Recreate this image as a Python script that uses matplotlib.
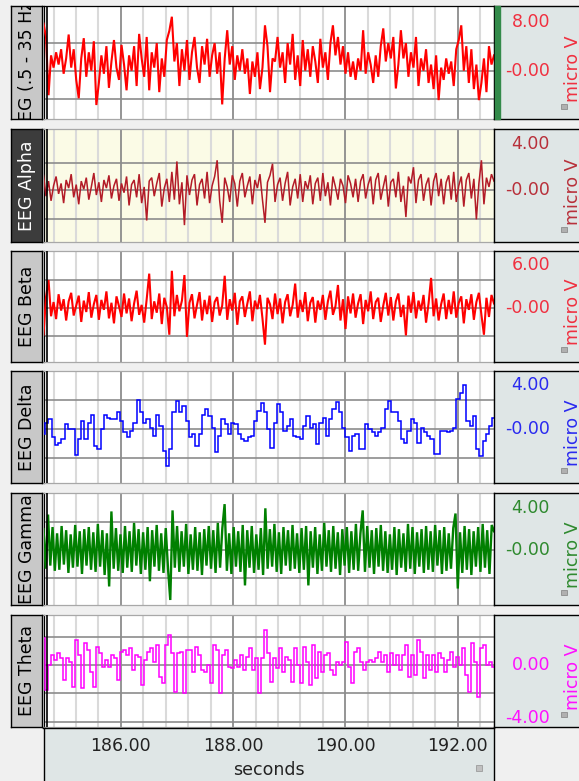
import numpy as np
import matplotlib

matplotlib.use("Agg")

import matplotlib.pyplot as plt
from matplotlib.patches import Rectangle

W, H = 579, 781
plt.rcParams["font.family"] = ["DejaVu Sans"]

# visible time window (seconds) and the cursor line near the left edge
T_START, T_END = 184.62, 192.65
CURSOR_T = 184.676
X_MAJOR = [186.0, 188.0, 190.0, 192.0]
X_MAJOR_LABELS = ["186.00", "188.00", "190.00", "192.00"]
X_MINOR = [184.8, 185.2, 185.6, 186.4, 186.8, 187.2, 187.6, 188.4, 188.8,
           189.2, 189.6, 190.4, 190.8, 191.2, 191.6, 192.4]

# ---- channel samples (micro V) ----
eeg_full = [
    7.7, 5.5, -4.0, 2.5, 0.5, 3.0, 1.0, 3.5, -0.5, 2.0,
    5.9, 0.5, 3.5, -1.5, -4.5, 2.0, 5.3, -1.0, 3.0, 0.0,
    4.8, -5.6, -2.0, 2.5, -0.5, 4.0, -2.8, 1.5, 5.0, 0.5,
    -1.5, 4.2, 1.0, -3.2, 2.5, 0.0, 4.0, -2.5, 6.0, 2.0,
    -1.0, 5.5, -3.2, 3.0, 0.5, 4.5, -3.5, 2.0, -1.0, 5.0,
    6.5, 8.8, 1.5, 4.5, -2.5, 3.5, 0.0, 5.0, -1.5, 3.0,
    5.5, 0.5, -2.0, 4.0, 1.0, 5.2, -1.0, 2.5, 4.5, -0.5,
    3.0, -5.5, 2.0, 6.6, 1.0, 4.0, -1.5, 2.5, 0.0, 3.5,
    -0.5, 2.0, -3.8, 1.5, -1.0, 3.0, -3.0, 0.5, 7.4, 4.0, -3.5, 2.0,
    1.5, 5.5, 0.5, 3.0, -2.0, 4.5, 1.0, 6.0, -1.5, 2.5,
    -2.5, 5.0, 0.0, 3.5, -1.0, 4.0, 1.5, -2.0, 5.2, 0.5,
    3.0, -1.5, 4.5, 7.4, 2.5, 5.5, 1.0, 4.0, -0.5, 3.0,
    -1.0, 1.5, -1.5, 2.0, 0.0, 6.6, -0.5, 3.0, 1.0, -2.0,
    2.5, -1.0, 4.0, 6.9, 1.5, 4.5, 2.0, 5.5, -2.9, 1.0,
    6.6, 2.0, 4.5, -1.0, 3.0, 0.5, 5.5, -2.5, 2.0, 0.0,
    3.5, -2.0, 1.0, -3.0, 2.5, -4.8, 0.5, -1.5, 2.0, -0.5,
    1.5, -2.5, 3.5, 5.0, 7.4, 0.0, 4.0, -2.0, 3.5, -3.0,
    1.0, -4.8, -2.0, 2.0, -3.5, 4.0, 1.0, 2.5,
]

eeg_alpha = [
    1.3, -0.5, 0.8, -0.9, 0.4, 1.2, -0.3, 0.6, -1.1, 0.9,
    0.2, 1.4, -0.6, 0.5, -1.2, 0.8, 0.1, 1.1, -0.8, 0.3,
    1.5, -0.4, 0.7, -1.0, 0.9, 0.2, 1.3, -0.7, 0.4, 1.0,
    -0.9, 0.6, -0.2, 1.2, -1.3, 0.5, 0.9, -0.6, 1.4, -1.1,
    0.3, -2.6, 0.8, 1.1, -0.5, 0.6, 1.5, -1.4, 0.2, 1.0,
    -1.0, 1.6, -0.8, 2.5, -1.2, 0.7, -3.0, 1.3, -0.4, 0.9,
    1.4, -1.3, 0.5, 1.0, -0.7, 1.6, -1.1, 0.4, 1.2, 2.6,
    -0.9, -2.8, 1.1, 0.3, -1.0, 1.3, 0.6, -1.4, 0.8, 1.5,
    -0.6, 0.4, 1.2, -1.2, 0.9, 0.2, 1.4, -0.8, -2.8, 0.7,
    1.3, 2.3, -1.0, 0.5, 1.1, -0.9, 0.6, 1.6, -1.3, 0.3,
    1.0, -0.7, 1.4, -1.0, 0.8, 0.1, 1.3, -1.2, 0.6, 1.1,
    -0.9, 1.5, -0.5, 0.7, -1.3, 1.2, 0.3, -0.8, 1.0, 0.4,
    -1.1, 1.3, 0.6, -0.6, 1.0, -1.0, 0.8, 1.4, -0.7, 0.5,
    1.2, -1.2, 0.9, 1.5, -0.8, 0.3, 1.3, -1.4, 0.7, 1.0,
    -0.6, 1.6, -1.0, 0.4, -2.3, 1.2, 0.6, 2.0, -1.1, 0.9,
    1.4, -0.9, 0.5, 1.1, -1.3, 0.8, 1.5, -0.5, 1.0, -1.2,
    0.7, 1.3, -0.8, 1.6, -1.0, 0.4, 1.2, -1.4, 0.9, 1.5,
    -0.7, 1.0, -2.5, 0.6, 2.6, -1.2, 1.1, 0.3, 1.4, 0.8,
]

eeg_beta = [
    -3.8, 1.5, 3.9, -1.2, 0.8, -1.6, 1.9, -0.4, 1.2, -1.8,
    0.9, 2.1, -1.1, 0.3, 1.7, -2.0, 1.0, -0.6, 2.2, -1.4,
    0.5, 1.8, -1.7, 1.1, -0.3, 2.3, -1.5, 0.7, -2.2, 1.6,
    0.2, -1.3, 2.0, -0.8, 1.3, -1.9, 0.6, 2.4, -1.0, 0.4,
    -2.1, 1.2, 4.8, -1.6, 0.9, -0.7, 2.0, -2.3, 1.4, 0.1,
    -3.8, 5.2, -1.2, 1.8, -0.5, 1.0, 4.6, -4.1, 0.7, 1.9,
    -1.5, 0.4, 2.2, -1.8, 1.1, -0.9, 1.7, -2.0, 0.8, 1.5,
    -1.1, 0.3, 4.5, -1.7, 1.2, -0.4, 2.1, -2.4, 0.9, 1.6,
    -1.3, 0.6, 2.3, -1.9, 1.0, -0.2, 1.8, -1.5, -5.2, 1.4,
    0.5, -1.6, 2.0, -0.9, 1.3, -2.2, 0.8, 1.9, -1.2, 0.4,
    3.4, -1.4, 1.1, -0.6, 2.2, -1.9, 0.7, 1.5, -2.1, 1.0,
    -0.3, 1.8, -1.7, 0.9, 2.4, -1.0, 0.2, 3.2, -1.8, 1.2,
    -3.0, 1.6, -0.8, 2.0, -1.4, 0.6, 1.9, -2.3, 1.1, -0.5,
    2.3, -1.6, 0.8, 1.4, -2.0, 0.3, 2.1, -1.1, 1.5, -1.8,
    0.9, 2.0, -1.3, 0.4, -3.9, 1.7, -0.7, 2.2, -1.5, 1.0,
    -0.4, 1.8, -2.1, 0.6, 4.2, -1.2, 1.3, -1.8, 0.5, 2.0,
    -1.6, 1.1, -0.9, 2.3, -1.4, 0.7, 1.6, -2.2, 1.2, -0.3,
    1.9, -1.7, 0.8, 2.1, -1.0, -3.8, 1.4, -1.3, 1.8, 0.6,
]

eeg_delta = [
    -0.5, 0.55, 0.85, -0.8, -1.55, -1.35, -1.0, 0.4, 0.0, -0.05,
    -2.45, -1.0, 0.7, -1.0, 0.55, 1.3, -1.65, -1.9, -0.05, 1.3,
    1.0, 0.9, 0.9, 1.5, 0.7, -0.35, -0.8, -0.2, 0.55, 2.65,
    1.5, 0.55, 0.85, 0.1, -0.7, 1.3, 0.25, -2.05, -3.45, -1.9,
    1.5, 2.55, 1.5, 2.1, 0.7, -0.8, -0.5, -1.6, -0.5, 1.3,
    1.8, 1.15, 0.1, -2.2, -0.7, 0.85, 0.4, -0.5, 0.55, 0.4,
    -0.5, -1.0, -1.15, -0.8, -0.7, 0.7, 1.65, 2.4, 1.5,
    -0.05, -1.75, 0.55, 2.25, 1.5, -0.2, 0.25, 0.85, -0.7, -0.8,
    -1.0, 0.25, 1.15, 0.1, 0.4, -1.45, 0.55, 1.0, -0.7, 0.85,
    1.8, 2.45, 1.5, 0.1, -0.8, -2.05, -0.7, -0.5, -1.9, -1.9,
    0.4, -0.05, -0.35, -0.7, -0.35, 0.1, 1.8, 2.55, 1.5, 1.5,
    0.7, -1.0, -1.3, -0.2, 0.85, 0.55, -1.3, 0.1, -0.35, -0.7,
    -1.0, -2.35, -2.35, -0.2, -0.2, -0.35, -0.2, 0.1, 2.7, 3.3,
    4.0, 0.7, 0.25, 1.15, -1.9, -2.5, -1.15, -0.5, 0.25, 1.0,
]

eeg_gamma = [
    2.0, -1.8, 3.4, -1.5, 2.2, -2.0, 1.6, -1.9, 2.3, -1.4,
    1.9, -2.2, 1.5, -1.7, 2.4, -1.6, 1.8, -2.3, 2.0, -1.5,
    2.2, -1.9, 1.7, -2.1, 2.5, -1.6, 1.9, -2.4, 1.6, -3.5,
    3.7, -1.8, 2.1, -2.0, 1.5, -2.2, 2.3, -1.7, 1.8, -2.1,
    2.6, -1.5, 2.0, -2.3, 1.7, -1.9, 2.2, -3.0, 1.9, -1.6,
    2.4, -2.0, 1.6, -2.2, 2.1, -1.8, -4.8, 3.8, -1.7, 2.3,
    -2.1, 1.8, -1.6, 2.5, -2.3, 1.5, -1.9, 2.2, -2.0, 1.7,
    -2.4, 2.0, -1.5, 2.3, -1.8, 1.9, -2.2, 2.6, -1.7, 2.1,
    4.4, -2.0, 1.6, -2.3, 2.2, -1.6, 1.8, -2.1, 2.4, -3.4,
    1.9, -1.7, 2.3, -2.2, 1.5, -1.9, 2.1, -2.4, 4.0, -1.8,
    2.0, -1.6, 2.5, -2.1, 1.7, -2.3, 2.2, -1.5, 1.9, -2.0,
    2.4, -1.8, 1.6, -2.2, 2.1, -1.9, 2.3, -3.4, 1.8, -1.7,
    2.2, -2.3, 1.5, -2.0, 2.6, -1.6, 1.9, -2.1, 2.3, -1.8,
    1.7, -2.4, 2.0, -1.5, 2.2, -2.2, 1.8, -1.9, 2.5, -2.0,
    1.6, 3.8, -2.1, 2.3, -1.7, 1.9, -2.3, 2.1, -1.6, 2.4,
    -2.0, 1.8, -2.2, 1.5, -1.9, 2.2, -2.4, 2.0, -1.7, 1.6,
    -2.1, 2.5, -1.8, 2.2, -2.3, 1.7, -1.6, 2.0, -2.2, 2.3,
    -1.9, 1.8, -2.1, 2.4, -1.5, 1.9, -2.3, 2.2, -2.0, 1.6,
    -1.8, 2.1, 3.5, -3.7, 1.7, -2.2, 2.3, -1.9, 2.0, -2.4,
    1.8, -1.6, 2.2, -2.1, 2.5, -1.7, 1.9, -2.3, 2.4, 1.8,
]

eeg_theta = [
    2.0, -1.88, 0.0, 0.75, 0.38, 0.88, 0.5, -1.12, 0.5, 0.25,
    -1.62, 1.88, 0.75, -1.75, 1.62, 1.12, -0.5, -1.62, 1.38, 0.88,
    -0.12, 0.38, -0.12, 0.75, 0.5, -1.12, 1.0, 1.12, 0.75, 1.25,
    -0.38, 0.75, 0.62, -1.5, 0.38, 1.0, 1.25, 0.25, 1.5, -0.88,
    -1.38, 1.5, 2.25, 0.88, -2.0, 0.88, 1.0, -2.12, 1.12, 1.12,
    -0.5, 1.38, 0.75, -0.38, -0.5, 0.0, -1.38, 1.5, 1.12, -2.12,
    0.75, 1.12, -0.12, -0.25, 0.38, -0.12, 0.75, -0.38, 0.62, 1.25,
    -0.38, 0.5, -2.12, 0.5, 2.62, 0.88, -1.25, 0.5, -0.25, 1.25,
    -0.5, 0.62, 0.38, -1.25, 1.25, 0.0, -1.38, 1.38, 0.25, -1.5,
    1.5, -1.0, 1.0, -0.5, 0.75, 0.88, -0.38, -0.75, 0.25, 0.0,
    0.25, 1.75, -0.12, -1.38, 1.0, 1.25, 0.25, -0.38, 0.25, 0.38,
    0.25, 0.5, 1.0, 0.25, 0.75, -0.5, 0.88, 0.0, 0.75, -0.38,
    0.75, 1.5, -0.88, 0.75, -0.75, 1.88, 1.0, -1.0, 0.75, -0.38,
    0.75, -0.5, 0.88, 0.5, -0.5, 0.38, 1.0, -0.12, 0.62, 0.0,
    1.25, -0.75, -2.0, 1.62, 0.25, -2.38, 1.25, 1.5, 0.0, 0.25, -0.12,
]

names = ["EEG (.5 - 35 Hz)", "EEG Alpha", "EEG Beta", "EEG Delta", "EEG Gamma", "EEG Theta"]
series = [eeg_full, eeg_alpha, eeg_beta, eeg_delta, eeg_gamma, eeg_theta]
colors = ["#ff0000", "#b31b27", "#ff0000", "#0000ff", "#008000", "#ff00ff"]
label_colors = ["#f03040", "#b8303a", "#f03040", "#2a2af0", "#2f8a2f", "#ff10ff"]
# steps for the slow bands, plain lines for the dense ones
draw_styles = ["default", "default", "default", "steps-mid", "default", "steps-mid"]
line_widths = [1.5, 1.1, 1.5, 1.1, 1.7, 1.1]
y_limits = [(-7.93, 10.6), (-4.43, 5.3), (-7.6, 8.03), (-5.05, 5.35), (-5.28, 5.44), (-4.62, 3.75)]
y_grids = [[4.46, 0, -4.67], [2.39, 0, -2.47], [3.9, 0, -4.0],
           [2.65, 0, -2.68], [2.72, 0, -2.72], [2.07, 0, -2.12, -4.3]]
y_label_values = [[8, 0], [4, 0], [6, 0], [4, 0], [4, 0], [0, -4]]
y_label_texts = [["8.00", "-0.00"], ["4.00", "-0.00"], ["6.00", "-0.00"],
                 ["4.00", "-0.00"], ["4.00", "-0.00"], ["0.00", "-4.00"]]

# panel rows in pixels (top, bottom)
rows = [(5.7, 119.3), (129, 241.7), (250.7, 361.7), (370.7, 483.3), (493.3, 605), (615, 726.7)]


def rect(x0, y0, x1, y1):
    return [x0 / W, 1 - y1 / H, (x1 - x0) / W, (y1 - y0) / H]


def px_patch(fig, x0, y0, w, h, **kw):
    fig.add_artist(Rectangle((x0 / W, 1 - (y0 + h) / H), w / W, h / H,
                             transform=fig.transFigure, **kw))


fig = plt.figure(figsize=(W / 100, H / 100), dpi=100, facecolor="#f0f0f0")

for k, (top, bottom) in enumerate(rows):
    # trace area
    ax = fig.add_axes(rect(43.5, top, 494, bottom))
    ax.set_facecolor("#fbfbe6" if k == 1 else "white")
    for x in X_MINOR:
        ax.axvline(x, color="#dadada", lw=1.5, zorder=1)
    for x in X_MAJOR:
        ax.axvline(x, color="#8c8c8c", lw=1.3, zorder=1)
    for y in y_grids[k]:
        ax.axhline(y, color="#8c8c8c", lw=1.2, zorder=1)
    values = series[k]
    t = np.linspace(T_START, T_END, len(values))
    ax.plot(t, values, drawstyle=draw_styles[k], color=colors[k], lw=line_widths[k],
            zorder=3, solid_joinstyle="miter")
    ax.axvline(CURSOR_T, color="black", lw=1.2, zorder=4)
    ax.set_xlim(T_START, T_END)
    ax.set_ylim(*y_limits[k])
    ax.set_xticks([])
    ax.set_yticks([])
    for side, sp in ax.spines.items():
        sp.set_color("black" if (side == "left" or (k == 0 and side == "top")) else "#a8a8a8")
        sp.set_linewidth(0.9)

    # channel name box
    lab = fig.add_axes(rect(11, top, 42.5, bottom))
    dark = k == 1
    lab.set_facecolor("#3c3c3c" if dark else "#c8c8c8")
    lab.set_xticks([])
    lab.set_yticks([])
    for sp in lab.spines.values():
        sp.set_color("black")
        sp.set_linewidth(1.0)
    lab.text(0.5, 0.5, names[k], rotation=90, ha="center", va="center",
             fontsize=12.5, color="white" if dark else "black",
             transform=lab.transAxes, clip_on=True)

    # scale box on the right
    rax = fig.add_axes(rect(494, top, 590, bottom))
    rax.set_facecolor("#dfe6e6")
    rax.set_xlim(0, 96)
    rax.set_ylim(*y_limits[k])
    rax.set_xticks([])
    rax.set_yticks([])
    for sp in rax.spines.values():
        sp.set_color("black")
        sp.set_linewidth(1.0)
    for val, txt in zip(y_label_values[k], y_label_texts[k]):
        rax.text(56, val, txt, ha="right", va="center", fontsize=12.5, color=label_colors[k])
    mid = y_limits[k][0] + (y_limits[k][1] - y_limits[k][0]) * (0.5 - 6 / (bottom - top))
    rax.text(70.5, mid, "micro V", rotation=90, ha="left", va="center",
             fontsize=12.5, color=label_colors[k])
    if k == 0:
        px_patch(fig, 494.5, top + 0.5, 5, bottom - top - 1, color="#338a4a", zorder=5)
    px_patch(fig, 561, bottom - 15, 6, 5, facecolor="#b0b0b0", edgecolor="#808080", lw=0.5, zorder=5)

# time axis box
xax = fig.add_axes(rect(43.5, 728.3, 494, 790))
xax.set_facecolor("#dfe6e6")
xax.set_xlim(T_START, T_END)
xax.set_ylim(0, 1)
xax.set_xticks([])
xax.set_yticks([])
for sp in xax.spines.values():
    sp.set_color("black")
    sp.set_linewidth(1.0)
for x, txt in zip(X_MAJOR, X_MAJOR_LABELS):
    xax.text(x, 0.72, txt, ha="center", va="center", fontsize=12.5, color="#222222")
xax.text((T_START + T_END) / 2, 0.32, "seconds", ha="center", va="center",
         fontsize=12.5, color="#222222")
px_patch(fig, 476, 765, 6, 6, facecolor="#c0c0c0", edgecolor="#909090", lw=0.5, zorder=5)

fig.savefig("out.png", dpi=100, facecolor=fig.get_facecolor())
